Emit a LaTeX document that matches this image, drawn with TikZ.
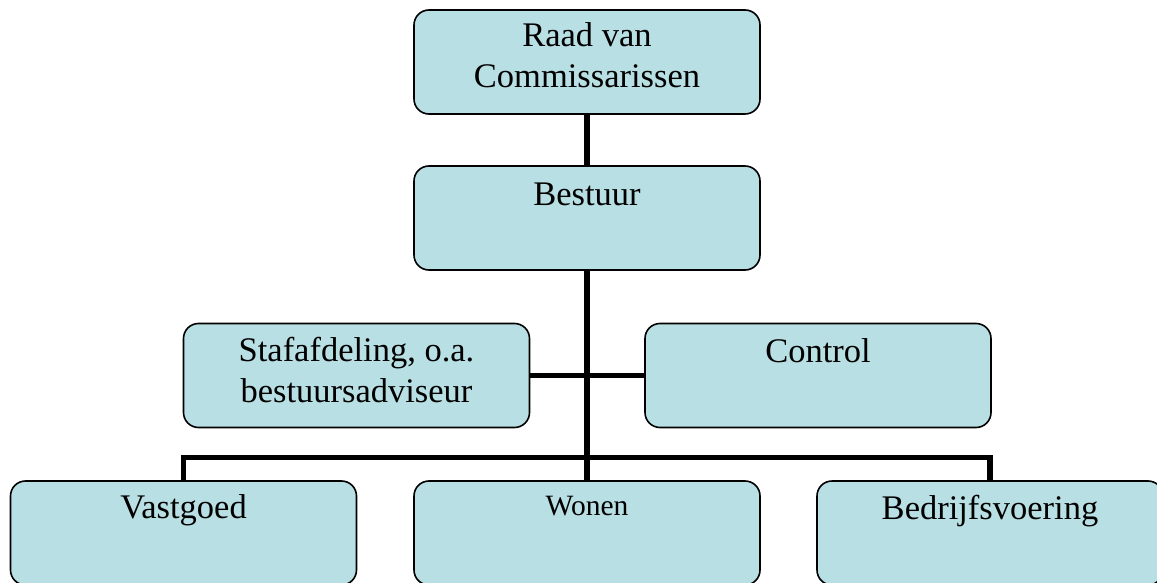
\documentclass[tikz,border=0pt]{standalone}
\usepackage{fontspec}
\setmainfont{Liberation Serif}
\definecolor{boxfill}{RGB}{184,223,227}
\newcommand\btext[3]{\parbox[c][104pt][t]{346pt}{\centering#1\rule{0pt}{#2}#3}}
\newcommand\bigfont{\fontsize{34.5}{41}\selectfont}
\newcommand\smallfont{\fontsize{29.5}{35}\selectfont}
\tikzset{
  orgbox/.style={draw=black, fill=boxfill, line width=1.6pt, rounded corners=15pt, inner sep=0pt, outer sep=0pt},
  link/.style={draw=black, line width=5.5pt}
}
\begin{document}
\begin{tikzpicture}[x=1pt, y=-1pt]
\useasboundingbox (0,0) rectangle (1157,583);
\clip (0,0) rectangle (1157,583);
\node[orgbox] (raad) at (587,62) {\btext{\bigfont}{37pt}{Raad van\\Commissarissen}};
\node[orgbox] (bestuur) at (587,218) {\btext{\bigfont}{39pt}{Bestuur}};
\node[orgbox] (staf) at (356.5,375.5) {\btext{\bigfont}{38pt}{Stafafdeling, o.a.\\bestuursadviseur}};
\node[orgbox] (control) at (818,375.5) {\btext{\bigfont}{39pt}{Control}};
\node[orgbox] (vastgoed) at (183.5,533) {\btext{\bigfont}{37pt}{Vastgoed}};
\node[orgbox] (wonen) at (587,533) {\btext{\smallfont}{34pt}{Wonen}};
\node[orgbox] (bedrijf) at (990,533) {\btext{\bigfont}{38pt}{Bedrijfsvoering}};
\coordinate (bar) at (587,457.5);
\draw[link] (raad.south) -- (bestuur.north);
\draw[link] (bestuur.south) -- (wonen.north);
\draw[link] (staf.east) -- (control.west);
\draw[link] (vastgoed.north) |- (bar) -| (bedrijf.north);
\end{tikzpicture}
\end{document}
